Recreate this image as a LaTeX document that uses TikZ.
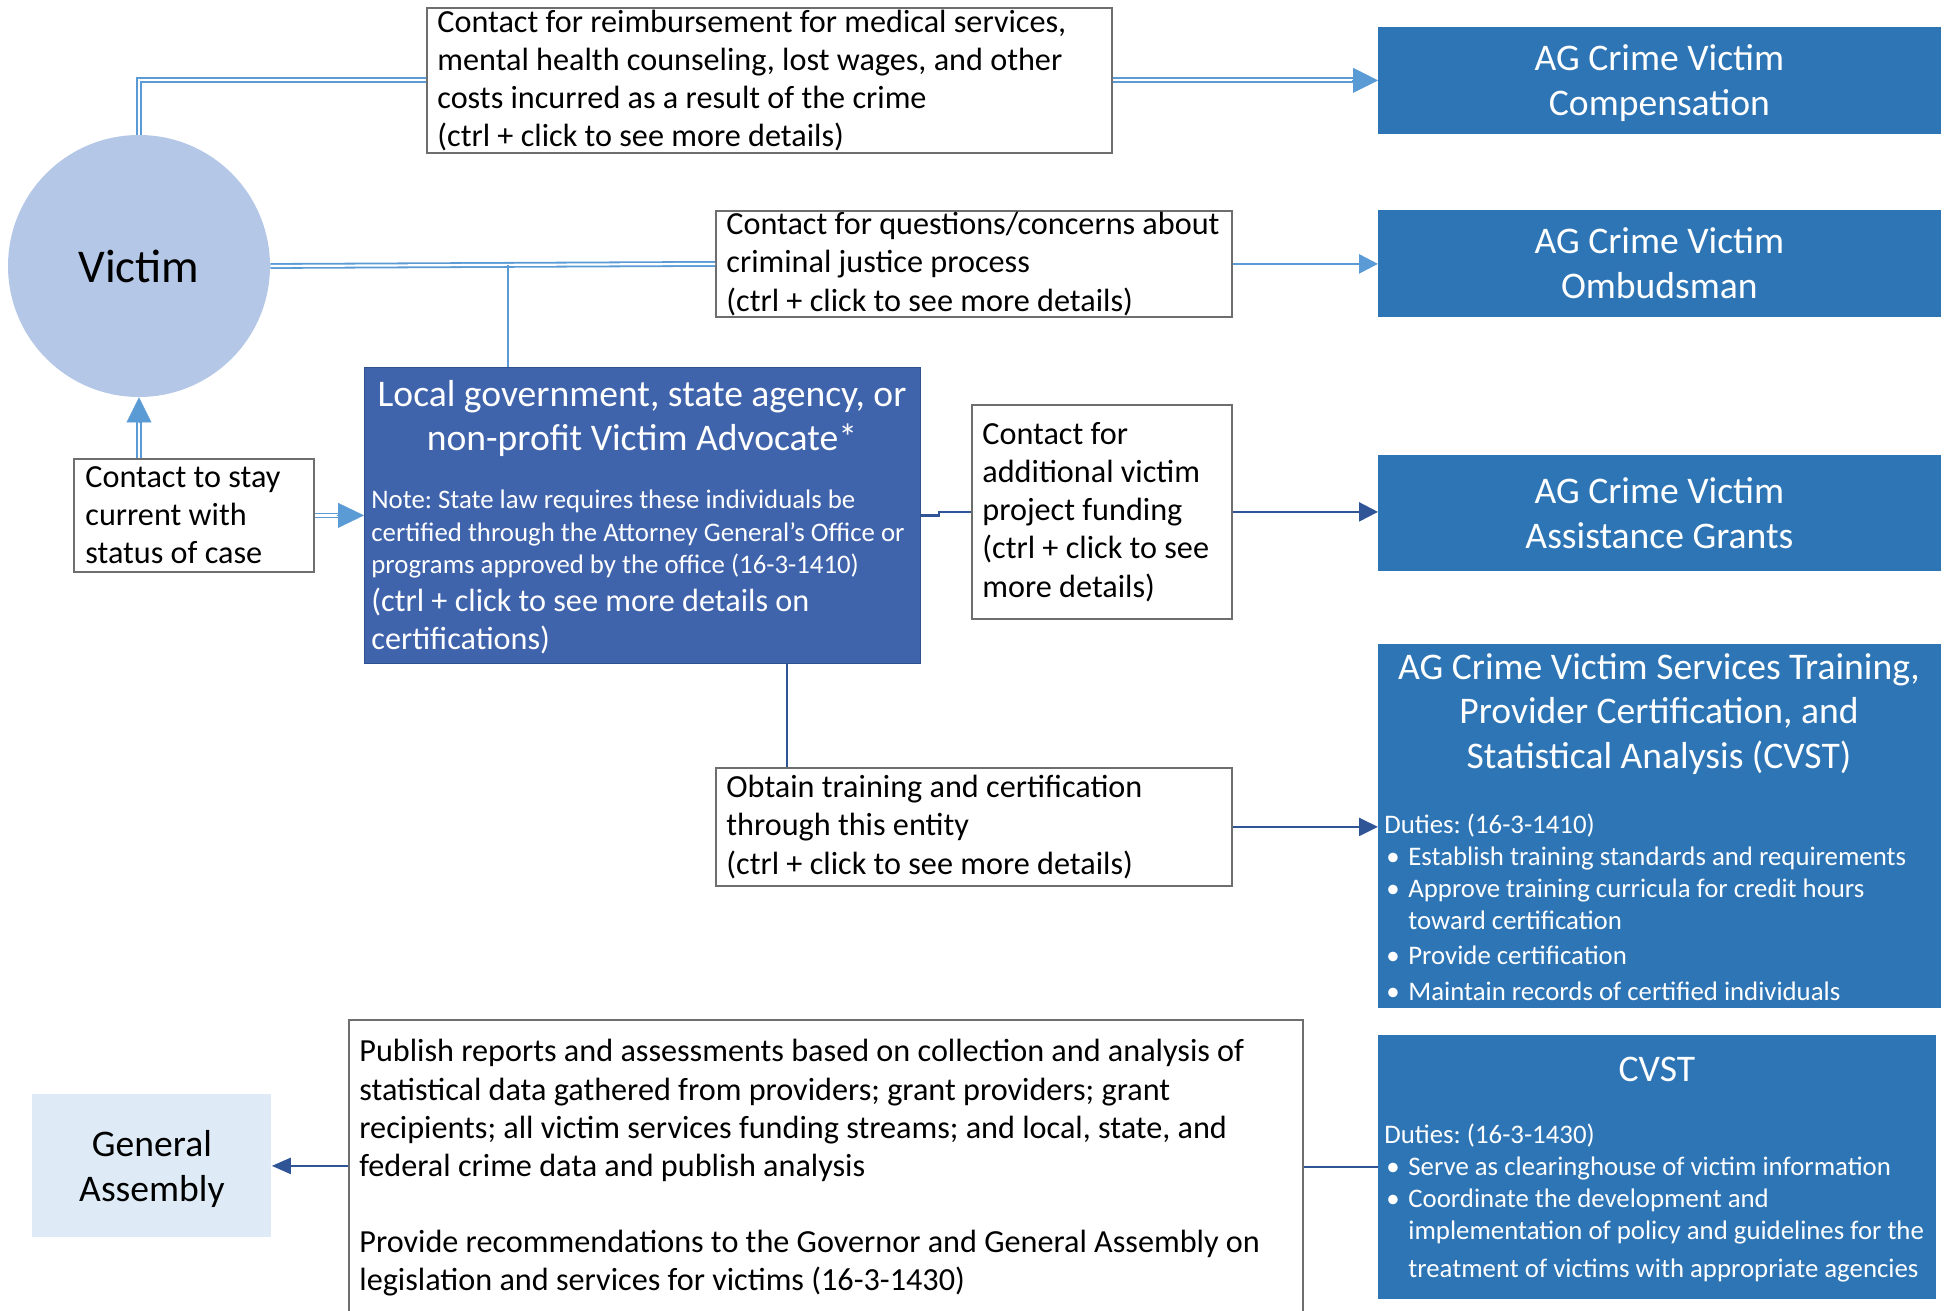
\documentclass[tikz,border=0pt]{standalone}
\usepackage{fontspec}
\setmainfont{Carlito}
\usetikzlibrary{arrows.meta}

\definecolor{cVictim}{HTML}{B4C7E7}
\definecolor{cAdv}{HTML}{4064AC}
\definecolor{cAdvLine}{HTML}{2F528F}
\definecolor{cAG}{HTML}{2E75B6}
\definecolor{cGA}{HTML}{DEEBF7}
\definecolor{cLight}{HTML}{5B9BD5}
\definecolor{cDark}{HTML}{2F5597}
\definecolor{cFrame}{HTML}{6E6E6E}

\newcommand\fnorm{\fontsize{16.1pt}{19.1pt}\selectfont}
\newcommand\ftitle{\fontsize{18.8pt}{22.4pt}\selectfont}
\newcommand\fsmall{\fontsize{13.4pt}{16.1pt}\selectfont}
\newcommand\fbig{\fontsize{23.5pt}{27pt}\selectfont}
\newcommand\bul{\hspace*{1pt}\makebox[11pt][l]{•}}
\newcommand\hang{\hspace*{12pt}}
\frenchspacing

\tikzset{
  frame/.style={draw=cFrame, line width=0.9pt, fill=white, anchor=north west, inner sep=0pt},
  agbox/.style={fill=cAG, draw=cAG, anchor=north west, inner sep=0pt,
                align=center, font=\ftitle, text=white},
  txtleft/.style={anchor=west, inner sep=0pt, align=left, font=\fnorm, text=black},
  txtwhite/.style={inner sep=0pt, align=center, font=\ftitle, text=white},
  dbl/.style={draw=cLight, line width=0.9pt, double=white, double distance=1.1pt},
  lightsingle/.style={draw=cLight, line width=1.3pt},
  darkconn/.style={draw=cDark, line width=1.2pt},
  lighttip/.style 2 args={draw=cLight, fill=cLight, line width=0.2pt,
                          -{Triangle[length=#1,width=#2]}},
}

\begin{document}
\begin{tikzpicture}[x=0.5pt, y=-0.5pt]
\useasboundingbox (0,0) rectangle (1950,1311);

% ---- boxes ----
\node[circle, fill=cVictim, minimum size=131pt, inner sep=0pt, font=\fbig] (victim) at (139,266) {Victim};

\node[frame, minimum width=342.5pt, minimum height=72.5pt] (comptxt) at (426,7) {};
\node[txtleft] (comptxtT) at ([xshift=5.5pt]comptxt.west)
  {Contact for reimbursement for medical services,\\mental health counseling, lost wages, and other\\costs incurred as a result of the crime\\(ctrl + click to see more details)};

\node[agbox, minimum width=281pt, minimum height=53pt] (comp) at (1378,27) {};
\node[txtwhite] (compT) at ([yshift=-1.5pt]comp.center) {AG Crime Victim\\Compensation};

\node[frame, minimum width=258pt, minimum height=53pt] (ombtxt) at (715,210) {};
\node[txtleft] (ombtxtT) at ([xshift=5.5pt]ombtxt.west)
  {Contact for questions/concerns about\\criminal justice process\\(ctrl + click to see more details)};

\node[agbox, minimum width=281pt, minimum height=53pt] (ombud) at (1378,210) {AG Crime Victim\\Ombudsman};

\node[fill=cAdv, draw=cAdvLine, line width=0.6pt, anchor=north west, inner sep=0pt,
      minimum width=278pt, minimum height=148pt] (adv) at (364,367) {};
\node[txtwhite] (advT) at (642,418.5) {Local government, state agency, or\\non-profit Victim Advocate*};
\node[txtleft, font=\fsmall, text=white] (advN) at (371,534)
  {Note: State law requires these individuals be\\certified through the Attorney General’s Office or\\programs approved by the office (16-3-1410)};
\node[txtleft, text=white] (advC) at (371,621) {(ctrl + click to see more details on\\certifications)};

\node[frame, minimum width=120pt, minimum height=56.5pt] (stay) at (73,458) {};
\node[txtleft] (stayT) at ([xshift=6pt]stay.west) {Contact to stay\\current with\\status of case};

\node[frame, minimum width=130pt, minimum height=107pt] (fund) at (971,404) {};
\node[txtleft] (fundT) at ([xshift=5.5pt]fund.west)
  {Contact for\\additional victim\\project funding\\(ctrl + click to see\\more details)};

\node[agbox, minimum width=281pt, minimum height=57.5pt] (grants) at (1378,455) {AG Crime Victim\\Assistance Grants};

\node[agbox, minimum width=281pt, minimum height=181.5pt] (cvst) at (1378,644) {};
\node[txtwhite] (cvstT) at (1659,714) {AG Crime Victim Services Training,\\Provider Certification, and\\Statistical Analysis (CVST)};
\node[txtleft, font=\fsmall, text=white] (cvstD) at (1384,907)
  {Duties: (16-3-1410)\\\bul Establish training standards and requirements\\\bul Approve training curricula for credit hours\\\hang toward certification\\[1pt]\bul Provide certification\\[2pt]\bul Maintain records of certified individuals};

\node[frame, minimum width=258pt, minimum height=59pt] (train) at (715,767) {};
\node[txtleft] (trainT) at ([xshift=5.5pt]train.west)
  {Obtain training and certification\\through this entity\\(ctrl + click to see more details)};

\node[frame, minimum width=477pt, minimum height=148.5pt] (pub) at (348,1019) {};
\node[txtleft] (pubT) at (359,1168)
  {Publish reports and assessments based on collection and analysis of\\statistical data gathered from providers; grant providers; grant\\recipients; all victim services funding streams; and local, state, and\\federal crime data and publish analysis\\[19pt]Provide recommendations to the Governor and General Assembly on\\legislation and services for victims (16-3-1430)};

\node[fill=cGA, anchor=north west, inner sep=0pt, minimum width=119.5pt, minimum height=71.5pt] (ga) at (32,1094) {};
\node[txtwhite, text=black] (gaT) at ([yshift=-1.5pt]ga.center) {General\\Assembly};

\node[agbox, minimum width=278.5pt, minimum height=131.5pt] (cvsttwo) at (1378,1035) {};
\node[txtwhite] (cvsttwoT) at (cvsttwo.center |- 0,1069) {CVST};
\node[txtleft, font=\fsmall, text=white] (cvsttwoD) at (1384,1203)
  {Duties: (16-3-1430)\\\bul Serve as clearinghouse of victim information\\\bul Coordinate the development and\\\hang implementation of policy and guidelines for the\\[3pt]\hang treatment of victims with appropriate agencies};

% ---- connectors ----
\draw[dbl] (victim.north) |- (comptxt.west);
\draw[dbl, shorten >=11pt] (comptxt.east) -- (comp.west);
\draw[lighttip={12.5pt}{12.5pt}] ([xshift=-13pt]comp.west) -- (comp.west);

\draw[dbl] (victim.east) -- (ombtxt.west);
\coordinate (jn) at (508,264.5);
\draw[lightsingle] (jn) -- (jn |- adv.north);
\draw[lightsingle, -{Triangle[length=9.5pt,width=9.5pt]}] (ombtxt.east) -- (ombtxt.east -| ombud.west);

\coordinate (su) at (victim.south |- stay.north);
\draw[dbl, shorten >=11pt] (su) -- (victim.south);
\draw[lighttip={12.5pt}{12.5pt}] ([yshift=-13pt]victim.south) -- (victim.south);

\coordinate (sa) at (adv.west |- stay.east);
\draw[dbl, shorten >=11pt] (stay.east) -- (sa);
\draw[lighttip={13pt}{12.5pt}] ([xshift=-13.5pt]sa) -- (sa);

\draw[darkconn] (adv.east) -- ++(18,0) |- (fund.west);
\draw[darkconn, -{Triangle[length=9.5pt,width=9.5pt]}] (fund.east) -- (fund.east -| grants.west);

\coordinate (at) at (787,663);
\draw[darkconn] (adv.south -| at) -- (train.north -| at);
\draw[darkconn, -{Triangle[length=9.5pt,width=9pt]}] (train.east) -- (train.east -| cvst.west);

\draw[darkconn] (cvsttwo.west) -- (cvsttwo.west -| pub.east);
\draw[darkconn, -{Triangle[length=9.5pt,width=8pt]}] (ga.east -| pub.west) -- (ga.east);
\end{tikzpicture}
\end{document}
